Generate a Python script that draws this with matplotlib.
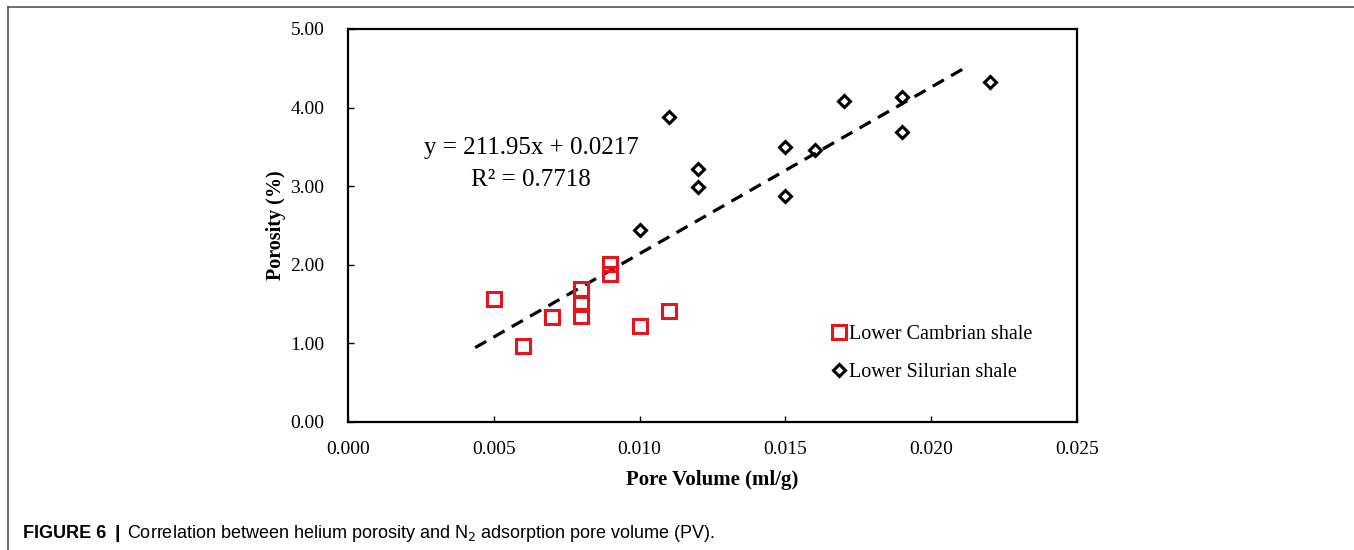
import matplotlib.pyplot as plt
from matplotlib.lines import Line2D

# Lower Cambrian shale (red squares)
cambrian_pv = [0.005, 0.006, 0.007, 0.008, 0.008, 0.008, 0.009, 0.009, 0.010, 0.011]
cambrian_por = [1.56, 0.97, 1.34, 1.69, 1.50, 1.35, 2.01, 1.88, 1.22, 1.41]

# Lower Silurian shale (black diamonds)
silurian_pv = [0.010, 0.011, 0.012, 0.012, 0.015, 0.015, 0.016, 0.017, 0.019, 0.019, 0.022]
silurian_por = [2.44, 3.88, 3.22, 2.99, 3.50, 2.88, 3.46, 4.09, 4.13, 3.69, 4.32]

# linear trend line shown in the chart
slope = 211.95
intercept = 0.0217
fit_x = [0.00436, 0.0211]

x_ticks = [0.000, 0.005, 0.010, 0.015, 0.020, 0.025]
y_ticks = [0.0, 1.0, 2.0, 3.0, 4.0, 5.0]

serif = "Liberation Serif"

fig = plt.figure(figsize=(13.54, 5.5), dpi=100)
ax = fig.add_axes([348 / 1354, 1 - 422 / 550, 729 / 1354, 393 / 550])

fit_y = [slope * x + intercept for x in fit_x]
ax.plot(fit_x, fit_y, color="black", lw=2.3, dashes=(4, 2.6))

ax.plot(cambrian_pv, cambrian_por, ls="none", marker="s", ms=10, mfc="none",
        mec="#e8141c", mew=2.2, label="Lower Cambrian shale")
ax.plot(silurian_pv, silurian_por, ls="none", marker="D", ms=6.5, mfc="none",
        mec="black", mew=2.2, label="Lower Silurian shale")

ax.set_xlim(0, 0.025)
ax.set_ylim(0, 5)
ax.set_xticks(x_ticks)
ax.set_yticks(y_ticks)
ax.set_xticklabels([f"{v:.3f}" for v in x_ticks], fontfamily=serif, fontsize=14)
ax.set_yticklabels([f"{v:.2f}" for v in y_ticks], fontfamily=serif, fontsize=14)
ax.tick_params(axis="both", direction="in", length=4, width=1, pad=17)
ax.tick_params(axis="x", pad=14)
for s in ax.spines.values():
    s.set_linewidth(1.6)

ax.set_xlabel("Pore Volume (ml/g)", fontfamily=serif, fontsize=15, fontweight="bold", labelpad=8)
ax.set_ylabel("Porosity (%)", fontfamily=serif, fontsize=14.5, fontweight="bold", labelpad=3)

# regression equation, two lines
ax.text(0.251, (422 - 148) / 393, "y = 211.95x + 0.0217", transform=ax.transAxes,
        ha="center", va="center", fontfamily=serif, fontsize=18)
ax.text(0.251, (422 - 180) / 393, "R² = 0.7718", transform=ax.transAxes,
        ha="center", va="center", fontfamily=serif, fontsize=18)

leg = ax.legend(loc="upper left", bbox_to_anchor=(0.651, 0.272), frameon=False,
                prop={"family": serif, "size": 14.5}, handlelength=0.6,
                handletextpad=0.2, labelspacing=0.95, borderpad=0)

# figure border lines and caption
fig.add_artist(Line2D([8 / 1354, 1], [1 - 7 / 550, 1 - 7 / 550], color="#555555", lw=1.2))
fig.add_artist(Line2D([8 / 1354, 8 / 1354], [0, 1 - 7 / 550], color="#555555", lw=1.2))
cap_y = 1 - 533 / 550
fig.text(23 / 1354, cap_y, "FIGURE 6", fontfamily="Liberation Sans",
         fontweight="bold", fontsize=13, va="center")
fig.text(115 / 1354, cap_y, "|", fontfamily="Liberation Sans",
         fontweight="bold", fontsize=14, va="center")
fig.text(127 / 1354, cap_y,
         "Correlation between helium porosity and N$_2$ adsorption pore volume (PV).",
         fontfamily="Liberation Sans", fontsize=13, va="center")

fig.savefig("out.png", dpi=100)
